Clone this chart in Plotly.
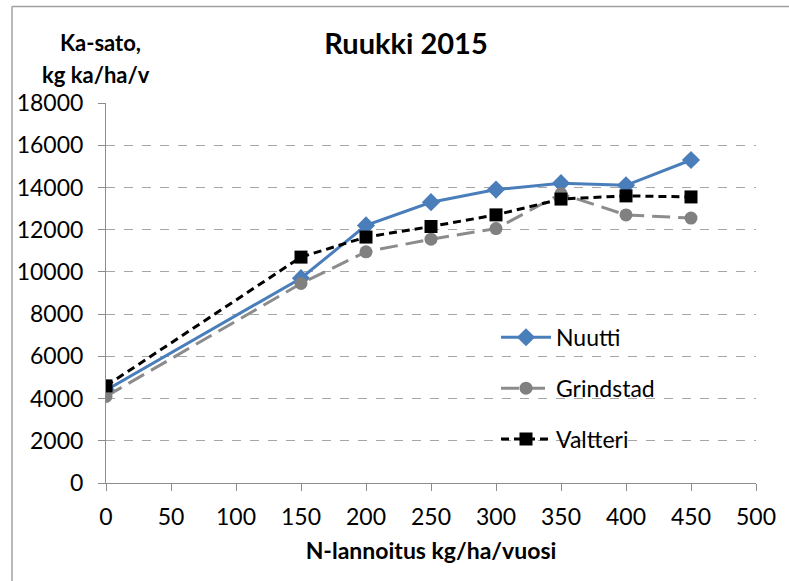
import plotly.graph_objects as go

# N-lannoitus (kg/ha/vuosi) ja sadot (kg ka/ha/v)
n_rates = [0, 150, 200, 250, 300, 350, 400, 450]
nuutti = [4400, 9700, 12200, 13300, 13900, 14200, 14100, 15300]
grindstad = [4100, 9450, 10950, 11550, 12050, 13700, 12700, 12550]
valtteri = [4600, 10700, 11650, 12150, 12700, 13450, 13600, 13550]

x_ticks = [0, 50, 100, 150, 200, 250, 300, 350, 400, 450, 500]
y_ticks = [0, 2000, 4000, 6000, 8000, 10000, 12000, 14000, 16000, 18000]
y_labels = [str(v) for v in y_ticks]

font_name = "Lato, Open Sans, sans-serif"

fig = go.Figure()

fig.add_trace(go.Scatter(
    x=n_rates, y=nuutti, name='Nuutti', mode='lines+markers',
    line=dict(color='#4a7ebb', width=3),
    marker=dict(symbol='diamond', size=14, color='#4a7ebb'),
    legendgroup='a'
))

fig.add_trace(go.Scatter(
    x=n_rates, y=grindstad, name='Grindstad', mode='lines+markers',
    line=dict(color='#8c8c8c', width=3, dash='18px,8px'),
    marker=dict(symbol='circle', size=13, color='#808080'),
    legendgroup='b'
))

fig.add_trace(go.Scatter(
    x=n_rates, y=valtteri, name='Valtteri', mode='lines+markers',
    line=dict(color='#000000', width=3, dash='8px,5px'),
    marker=dict(symbol='square', size=13, color='#000000'),
    legendgroup='c'
))

fig.update_layout(
    width=789, height=581,
    margin=dict(l=106, r=33, t=103, b=98),
    paper_bgcolor='white',
    plot_bgcolor='white',
    font=dict(family=font_name, size=22, color='#000000'),
    title=dict(
        text='<b>Ruukki 2015</b>',
        x=406 / 789, xref='container', xanchor='center',
        y=1 - 44 / 581, yref='container', yanchor='middle',
        font=dict(size=29)
    ),
    showlegend=True,
    legend=dict(
        x=0.6, y=0.44, xanchor='left', yanchor='top',
        bgcolor='rgba(0,0,0,0)',
        font=dict(size=23),
        traceorder='grouped',
        tracegroupgap=18,
        itemwidth=50
    ),
    xaxis=dict(
        range=[0, 500], tickvals=x_ticks,
        showgrid=False, zeroline=False, automargin=False,
        showline=True, linecolor='#8c8c8c', linewidth=1,
        ticks='outside', ticklen=7, tickcolor='#8c8c8c',
        ticklabelstandoff=6,
        tickfont=dict(size=23),
        title=dict(text='<b>N-lannoitus kg/ha/vuosi</b>', font=dict(size=23), standoff=14)
    ),
    yaxis=dict(
        range=[0, 18000], tickvals=y_ticks, ticktext=y_labels,
        showgrid=True, gridcolor='#a6a6a6', gridwidth=1, griddash='dash',
        zeroline=False, automargin=False,
        showline=True, linecolor='#8c8c8c', linewidth=1,
        ticks='outside', ticklen=7, tickcolor='#8c8c8c',
        ticklabelstandoff=10,
        tickfont=dict(size=23)
    ),
    annotations=[
        dict(text='<b>Ka-sato,</b>', xref='paper', yref='paper',
             x=(100 - 106) / 650, y=(483 - 42) / 380,
             xanchor='center', yanchor='middle', showarrow=False,
             font=dict(size=22)),
        dict(text='<b>kg ka/ha/v</b>', xref='paper', yref='paper',
             x=(96 - 106) / 650, y=(483 - 74) / 380,
             xanchor='center', yanchor='middle', showarrow=False,
             font=dict(size=22)),
    ],
    shapes=[
        dict(type='line', xref='paper', yref='paper',
             x0=(12 - 106) / 650, x1=(789 - 106) / 650,
             y0=(483 - 6.5) / 380, y1=(483 - 6.5) / 380,
             line=dict(color='#a0a0a0', width=1.5)),
        dict(type='line', xref='paper', yref='paper',
             x0=(12 - 106) / 650, x1=(12 - 106) / 650,
             y0=(483 - 6.5) / 380, y1=(483 - 581) / 380,
             line=dict(color='#a0a0a0', width=1.5)),
    ]
)

# drop the page margin so the figure sits at the window's top-left corner
fig.write_html("out.html", config={'displayModeBar': False},
               post_script="document.body.style.margin='0';")
